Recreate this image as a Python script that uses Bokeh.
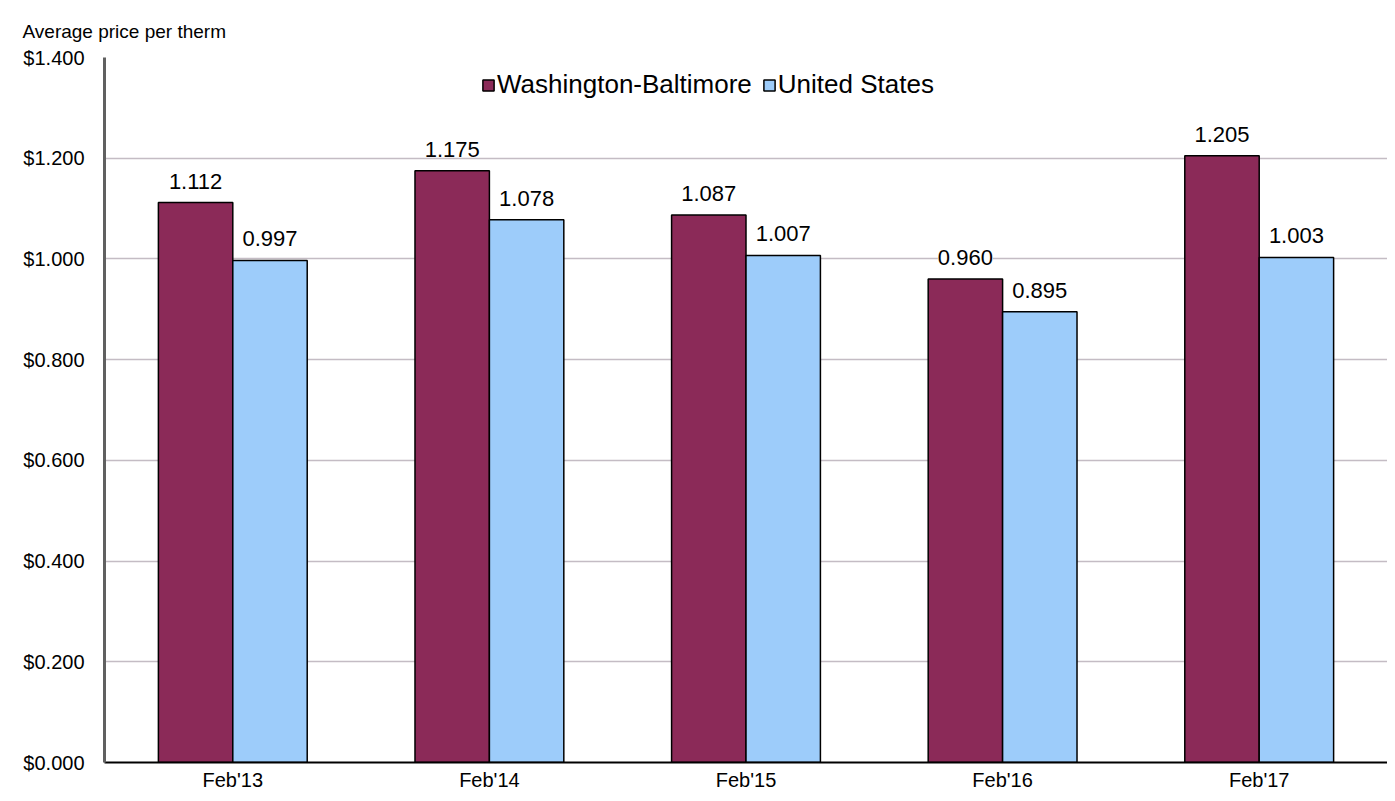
from bokeh.plotting import figure
from bokeh.models import FactorRange, Range1d, ColumnDataSource, LabelSet, NumeralTickFormatter, FixedTicker, Legend, LegendItem
from bokeh.core.properties import value
from bokeh.transform import dodge
from bokeh.embed import file_html
from bokeh.resources import INLINE

categories = ["Feb'13", "Feb'14", "Feb'15", "Feb'16", "Feb'17"]
washington = [1.112, 1.175, 1.087, 0.960, 1.205]
united_states = [0.997, 1.078, 1.007, 0.895, 1.003]
y_ticks = [0.0, 0.2, 0.4, 0.6, 0.8, 1.0, 1.2, 1.4]
title_text = "Average price per therm"

FONT = "Liberation Sans"

src = ColumnDataSource(dict(
    cat=categories,
    wb=washington,
    us=united_states,
    wb_txt=[f"{v:.3f}" for v in washington],
    us_txt=[f"{v:.3f}" for v in united_states],
))

p = figure(
    x_range=FactorRange(*categories, range_padding=0),
    y_range=Range1d(0, 1.4),
    width=1387, height=793,
    output_backend="svg", toolbar_location=None,
    min_border_left=104, min_border_right=0, min_border_top=57, min_border_bottom=0,
)

p.title.text = title_text
p.title.text_font = FONT
p.title.text_font_size = "19px"
p.title.text_font_style = "normal"
p.title.text_color = "#000000"
p.title.offset = -82
p.title.standoff = 32

bw = 0.29
r1 = p.vbar(x=dodge("cat", -bw / 2, range=p.x_range), top="wb", width=bw, source=src,
            fill_color="#8B2A58", line_color="#000000", line_width=1.5)
r2 = p.vbar(x=dodge("cat", bw / 2, range=p.x_range), top="us", width=bw, source=src,
            fill_color="#9DCCFA", line_color="#000000", line_width=1.5)

lab_style = dict(text_font=value(FONT), text_font_size="22px", text_align="center",
                 text_baseline="bottom", y_offset=14, background_fill_color="white",
                 text_color="#000000")
p.add_layout(LabelSet(x=dodge("cat", -bw / 2, range=p.x_range), y="wb", text="wb_txt", source=src, **lab_style))
p.add_layout(LabelSet(x=dodge("cat", bw / 2, range=p.x_range), y="us", text="us_txt", source=src, **lab_style))

legend = Legend(items=[LegendItem(label="Washington-Baltimore", renderers=[r1]),
                       LegendItem(label="United States", renderers=[r2])],
                orientation="horizontal",
                border_line_color=None, background_fill_alpha=0,
                label_text_font=FONT, label_text_font_size="26px", label_text_color="#000000",
                glyph_width=14, glyph_height=14, label_standoff=2, spacing=10,
                margin=0, padding=4)
p.add_layout(legend)
legend.location = (377, 662)

p.yaxis.ticker = FixedTicker(ticks=y_ticks)
p.yaxis.formatter = NumeralTickFormatter(format="$0.000")
p.yaxis.major_label_text_font = FONT
p.yaxis.major_label_text_font_size = "20px"
p.yaxis.major_label_text_color = "#000000"
p.yaxis.major_tick_line_color = None
p.yaxis.major_tick_out = 0
p.yaxis.major_tick_in = 0
p.yaxis.minor_tick_line_color = None
p.yaxis.axis_line_color = "#606060"
p.yaxis.axis_line_width = 3
p.yaxis.major_label_standoff = 20

p.xaxis.major_label_text_font = FONT
p.xaxis.major_label_text_font_size = "20px"
p.xaxis.major_label_text_color = "#000000"
p.xaxis.major_tick_line_color = None
p.xaxis.major_tick_out = 0
p.xaxis.major_tick_in = 0
p.xaxis.axis_line_color = "#000000"
p.xaxis.axis_line_width = 2
p.xaxis.major_label_standoff = 6

p.xgrid.grid_line_color = None
p.ygrid.grid_line_color = "#C4BCC4"
p.ygrid.grid_line_width = 1.5
p.outline_line_color = None

open("out.html", "w").write(file_html(p, INLINE))
